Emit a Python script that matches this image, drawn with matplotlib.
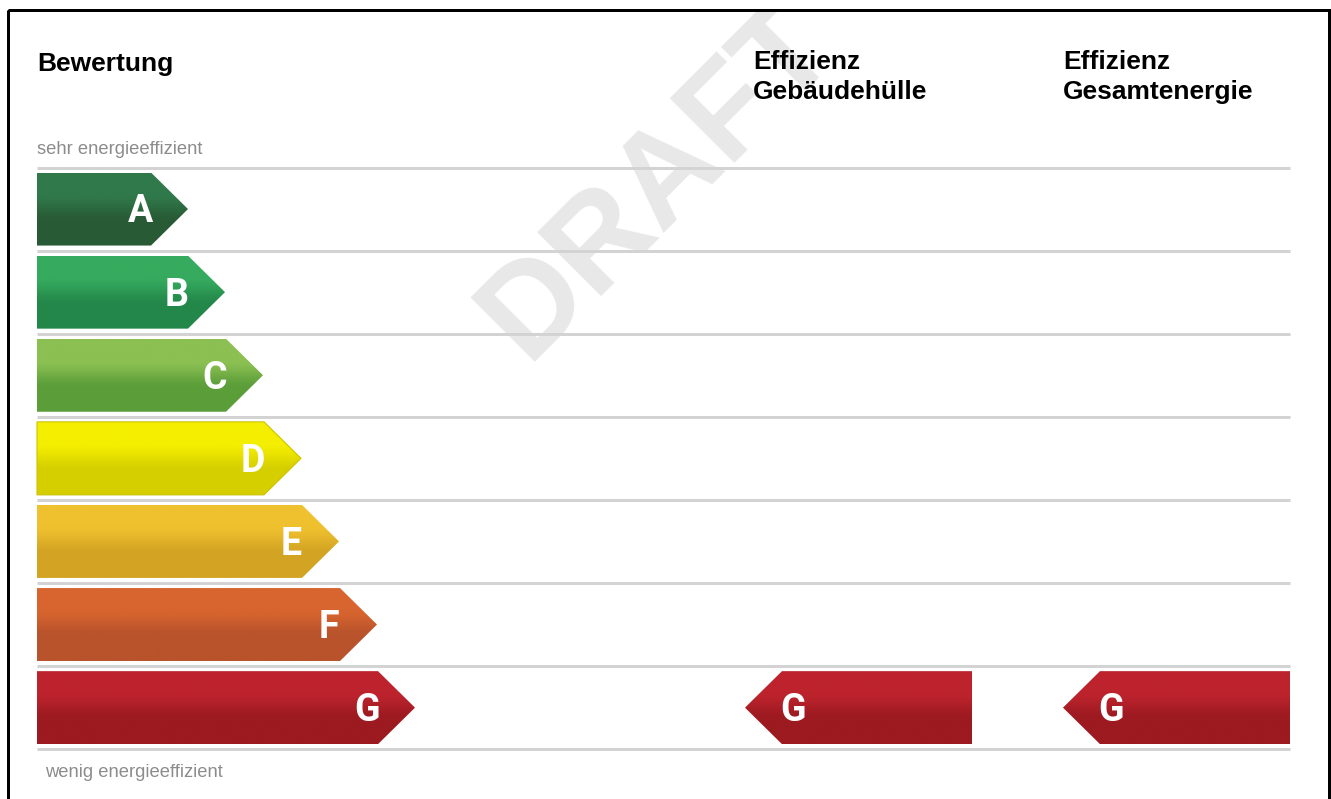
import numpy as np
import matplotlib
matplotlib.use('Agg')
import matplotlib.pyplot as plt
from matplotlib.patches import Polygon, Rectangle
from matplotlib.colors import LinearSegmentedColormap

# energy classes, arrow length incl. tip from the left edge (px) and gradient colours
classes = ['A', 'B', 'C', 'D', 'E', 'F', 'G']
class_lengths = [151, 188, 226, 264, 302, 340, 378]
top_colors = ['#30794a', '#36aa5e', '#8cc053', '#f4ee00', '#efc12f', '#d8652f', '#bd232d']
bottom_colors = ['#285a35', '#23874a', '#5b9e39', '#d6cf00', '#d3a423', '#b8532c', '#9c1a20']

# ratings of the two efficiency columns
rating_huelle = 'G'
rating_gesamt = 'G'

header_left = 'Bewertung'
header_huelle = ['Effizienz', 'Gebäudehülle']
header_gesamt = ['Effizienz', 'Gesamtenergie']
label_top = 'sehr energieeffizient'
label_bottom = 'wenig energieeffizient'
watermark = 'DRAFT'

W, H = 1331, 799
fig = plt.figure(figsize=(W / 100, H / 100), dpi=100)
ax = fig.add_axes([0, 0, 1, 1])
ax.axis('off')

px = 72 / 100  # points per pixel

# layout
left = 37
right = 1290
first_line = 167.5
pitch = 83.1
bar_h = 73
tip = 37
lines_y = [first_line + i * pitch for i in range(len(classes) + 1)]
centers = [(lines_y[i] + lines_y[i + 1]) / 2 for i in range(len(classes))]

# smooth vertical gradient: light upper part, darker lower part
g = np.linspace(0, 1, 200)
t = np.clip((g - 0.28) / 0.4, 0, 1)
t = t * t * (3 - 2 * t)
grad = t[:, None]


def gradient_arrow(pts, x0, x1, yc, c_top, c_bot, edge):
    y0, y1 = yc - bar_h / 2, yc + bar_h / 2
    poly = Polygon(pts, closed=True, facecolor='none', edgecolor=edge, lw=0.8, zorder=3)
    ax.add_patch(poly)
    cmap = LinearSegmentedColormap.from_list('bar', [c_top, c_bot])
    im = ax.imshow(grad, cmap=cmap, vmin=0, vmax=1, extent=(x0, x1, y1, y0),
                   aspect='auto', interpolation='bilinear', zorder=2)
    im.set_clip_path(poly)


letter_font = dict(family=['Liberation Sans Narrow', 'Roboto'], weight='bold', size=27, color='white')
cap = 27 / px * 0.716

# rating arrows on the left
for cls, length, ct, cb, yc in zip(classes, class_lengths, top_colors, bottom_colors, centers):
    y0, y1 = yc - bar_h / 2, yc + bar_h / 2
    x_tip = left + length
    xb = x_tip - tip
    pts = [(left, y0), (xb, y0), (x_tip, yc), (xb, y1), (left, y1)]
    edge = '#cdc200' if cls == 'D' else 'none'
    gradient_arrow(pts, left, x_tip, yc, ct, cb, edge)
    ax.text(x_tip - 48, yc + cap / 2, cls, ha='center', va='baseline', zorder=4, **letter_font)

# rating arrows in the two columns (pointing left)
for rating, tip_x, end_x in [(rating_huelle, 745, 972), (rating_gesamt, 1063, 1290)]:
    i = classes.index(rating)
    yc = centers[i]
    y0, y1 = yc - bar_h / 2, yc + bar_h / 2
    pts = [(tip_x, yc), (tip_x + tip, y0), (end_x, y0), (end_x, y1), (tip_x + tip, y1)]
    gradient_arrow(pts, tip_x, end_x, yc, top_colors[i], bottom_colors[i], 'none')
    ax.text(tip_x + 48, yc + cap / 2, rating, ha='center', va='baseline', zorder=4, **letter_font)

# separator lines
ax.hlines(lines_y, left, right, colors='#d3d3d3', lw=3 * px, zorder=1.5)

# headers
hfont = dict(family='Liberation Sans', weight='bold', size=19, color='black')
ax.text(left, 71, header_left, ha='left', va='baseline', **hfont)
for x, lines in [(753, header_huelle), (1063, header_gesamt)]:
    ax.text(x, 69, lines[0], ha='left', va='baseline', **hfont)
    ax.text(x, 99, lines[1], ha='left', va='baseline', **hfont)

sfont = dict(family='Liberation Sans', size=13.2, color='#8c8c8c')
ax.text(left, 154.5, label_top, ha='left', va='baseline', **sfont)
ax.text(45, 777, label_bottom, ha='left', va='baseline', **sfont)

# watermark
ax.text(526, 362, watermark, rotation=45, rotation_mode='anchor', ha='left', va='baseline',
        family='Liberation Sans', weight='bold', size=94, color='#e8e8e8', zorder=1)

# white strip above the frame hides the part of the watermark outside it
ax.add_patch(Rectangle((0, 0), W, 9.5, facecolor='white', edgecolor='none', zorder=5))

# frame
frame = Rectangle((7.5, 9.5), 1321, 900, fill=False, edgecolor='black', lw=3 * px, zorder=6, clip_on=False)
ax.add_patch(frame)

ax.set_xlim(0, W)
ax.set_ylim(H, 0)

fig.savefig('out.png', dpi=100)
